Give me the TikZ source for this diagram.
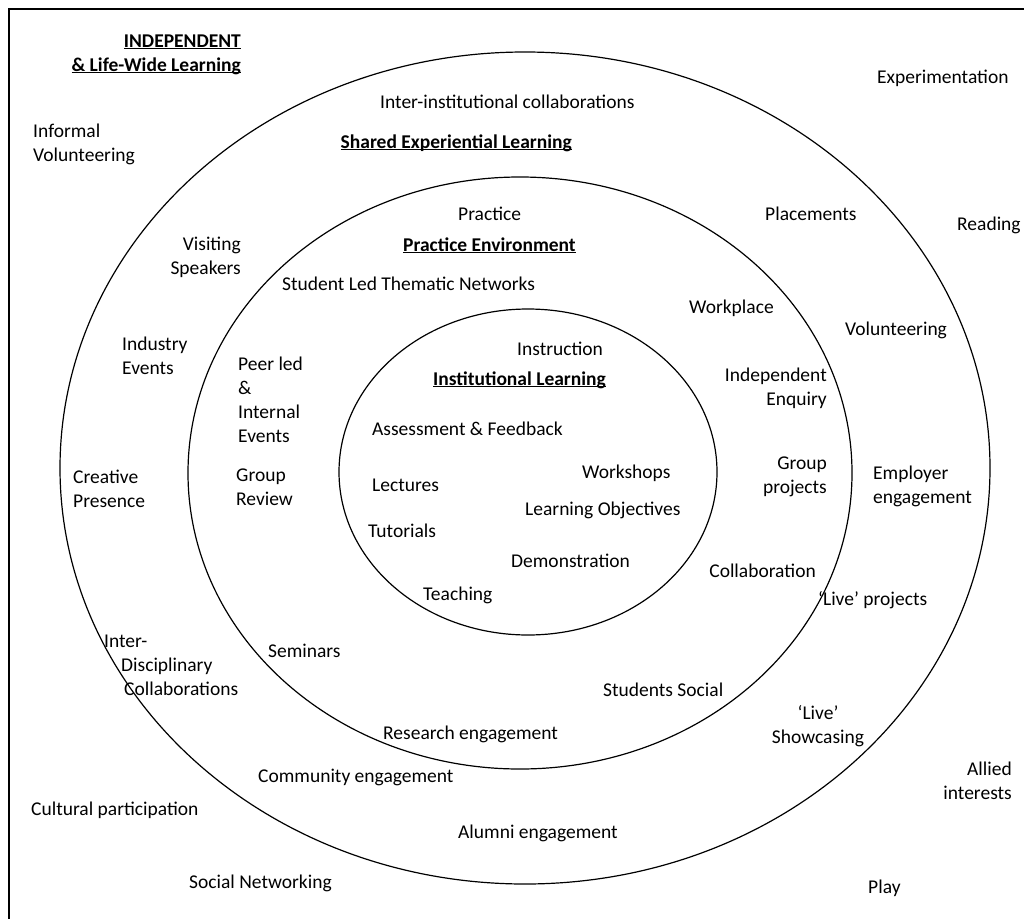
\documentclass[tikz,border=0pt]{standalone}
\usepackage{fontspec}
\setmainfont{Carlito}
\usetikzlibrary{positioning}

% underline drawn just below the baseline, as a word processor does
\newcommand{\ulhead}[1]{\setbox0\hbox{#1}\rlap{\rule[-2.4pt]{\wd0}{1.1pt}}\box0}

\tikzset{
    lbl/.style={inner sep=0pt, font=\fontsize{19.5}{24}\selectfont},
    lblL/.style={lbl, anchor=base west, align=left},
    lblR/.style={lbl, anchor=base east, align=right},
    lblC/.style={lbl, anchor=base, align=center},
    head/.style={lbl, font=\fontsize{19.5}{24}\selectfont\bfseries},
    ring/.style={draw, line width=1.2pt}
}

\begin{document}
\begin{tikzpicture}[x=1pt,y=-1pt]
    \useasboundingbox (0,0) rectangle (1024,918);
    \draw[line width=1.4pt] (9,9) rectangle (1040,935);

    % the three zones
    \draw[ring] (525,468) ellipse [x radius=465pt, y radius=416pt];
    \draw[ring] (520,473) ellipse [x radius=332pt, y radius=296pt];
    \draw[ring] (528,472) ellipse [x radius=189pt, y radius=163pt];

    % outside: independent and life-wide learning
    \node[head, anchor=base east, align=right] (indep) at (241,71)
        {\ulhead{INDEPENDENT}\\\ulhead{\& Life-Wide Learning}};
    \node[lblL] (exper) at (877,83) {Experimentation};
    \node[lblL] (infvol) at (33,161) {Informal\\Volunteering};
    \node[lblL] (read) at (957,230) {Reading};
    \node[lblR] (allied) at (1012,799) {Allied\\interests};
    \node[lblL] (cult) at (31,815) {Cultural participation};
    \node[lblL] (socnet) at (189,888) {Social Networking};
    \node[lblL] (play) at (868,893) {Play};

    % shared experiential learning
    \node[lblL] (interinst) at (380,108) {Inter-institutional collaborations};
    \node[head, anchor=base east] (shared) at (572,148) {\ulhead{Shared Experiential Learning}};
    \node[lblR] (visit) at (241,274) {Visiting\\Speakers};
    \node[lblL] (place) at (765,220) {Placements};
    \node[lblL] (indus) at (122,374) {Industry\\Events};
    \node[lblL] (volun) at (845,335) {Volunteering};
    \node[lblL] (creat) at (73,507) {Creative\\Presence};
    \node[lblL] (employ) at (873,503) {Employer\\engagement};
    \node[lblL] (liveproj) at (818,605) {`Live' projects};
    \node[lblL] (interdis) at (104,695) {Inter-\\\hspace{17pt}Disciplinary\\\hspace{20pt}Collaborations};
    \node[lblC] (liveshow) at (818,743) {`Live'\\Showcasing};
    \node[lblL] (commun) at (258,782) {Community engagement};
    \node[lblL] (alumni) at (458,838) {Alumni engagement};

    % practice environment
    \node[lblL] (pract) at (458,220) {Practice};
    \node[head, anchor=base west] (practenv) at (403,251) {\ulhead{Practice Environment}};
    \node[lblL] (student) at (282,290) {Student Led Thematic Networks};
    \node[lblL] (work) at (689,313) {Workplace};
    \node[lblR] (indenq) at (827,405) {Independent\\Enquiry};
    \node[lblL] (peer) at (238,442) {Peer led\\\&\\Internal\\Events};
    \node[lblR] (grpproj) at (827,493) {Group\\projects};
    \node[lblL] (grprev) at (236,505) {Group\\Review};
    \node[lblR] (collab) at (816,577) {Collaboration};
    \node[lblL] (semin) at (268,657) {Seminars};
    \node[lblL] (social) at (603,696) {Students Social};
    \node[lblL] (resea) at (383,739) {Research engagement};

    % institutional learning
    \node[lblL] (instr) at (517,355) {Instruction};
    \node[head, anchor=base west] (instit) at (433,385) {\ulhead{Institutional Learning}};
    \node[lblL] (assess) at (372,435) {Assessment \& Feedback};
    \node[lblL] (wshop) at (582,478) {Workshops};
    \node[lblL] (lect) at (372,491) {Lectures};
    \node[lblL] (lobj) at (525,515) {Learning Objectives};
    \node[lblL] (tutor) at (368,537) {Tutorials};
    \node[lblL] (demo) at (511,567) {Demonstration};
    \node[lblL] (teach) at (423,600) {Teaching};
\end{tikzpicture}
\end{document}
